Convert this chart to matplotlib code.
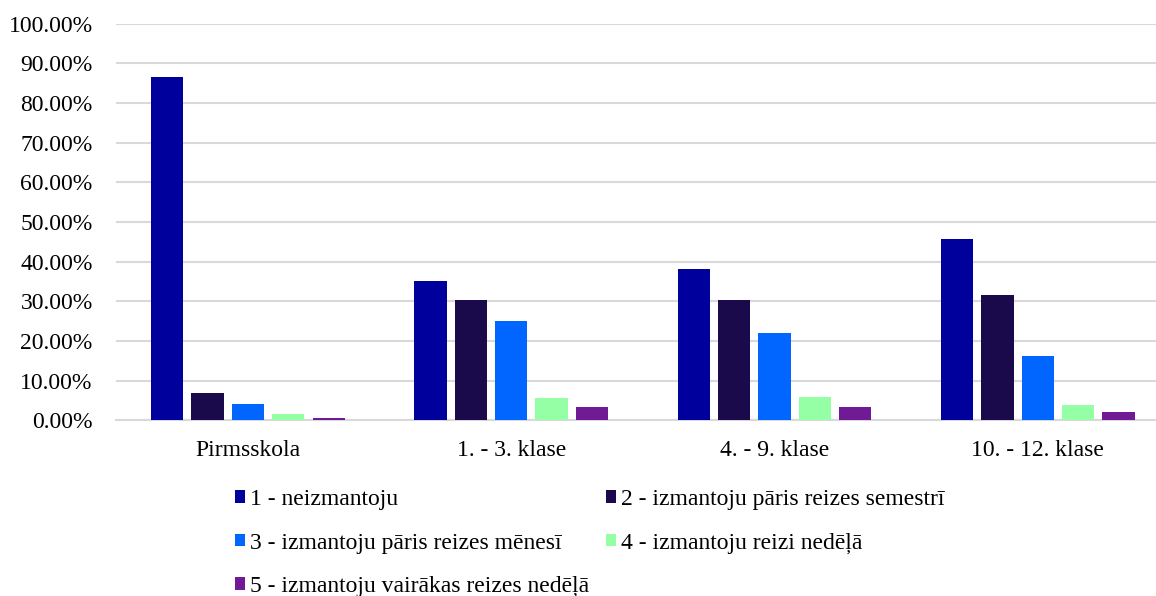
import numpy as np
import matplotlib.pyplot as plt
from matplotlib.ticker import FuncFormatter

categories = ['Pirmsskola', '1. - 3. klase', '4. - 9. klase', '10. - 12. klase']
series_names = ['1 - neizmantoju',
                '2 - izmantoju pāris reizes semestrī',
                '3 - izmantoju pāris reizes mēnesī',
                '4 - izmantoju reizi nedēļā',
                '5 - izmantoju vairākas reizes nedēļā']
s1 = [86.7, 35.2, 38.2, 45.8]
s2 = [6.8, 30.4, 30.4, 31.7]
s3 = [4.1, 25.1, 22.1, 16.3]
s4 = [1.6, 5.6, 5.9, 3.8]
s5 = [0.6, 3.4, 3.4, 2.1]
colors = ['#00009C', '#1B0A4B', '#0066FF', '#94FFA4', '#701A96']

plt.rcParams['font.family'] = ['Liberation Serif', 'DejaVu Serif']

fig = plt.figure(figsize=(11.56, 5.96), dpi=100)
# plot area runs a little past the right edge, like the original (cropped) chart
ax = fig.add_axes([0.1006, 0.295, 0.911, 0.665])

x = np.arange(len(categories))
pitch = 0.1535
width = 0.1227
handles = []
for i, vals in enumerate([s1, s2, s3, s4, s5]):
    h = ax.bar(x + (i - 2) * pitch, vals, width, color=colors[i], label=series_names[i], zorder=3)
    handles.append(h)

ax.set_ylim(0, 100)
ax.set_xlim(-0.5, 3.5)
ax.set_yticks(np.arange(0, 101, 10))
ax.yaxis.set_major_formatter(FuncFormatter(lambda v, p: f'{v:.2f}%'))
ax.set_xticks(x)
ax.set_xticklabels(categories)
ax.tick_params(axis='both', length=0, labelsize=17, colors='black')
ax.tick_params(axis='x', pad=14)
ax.tick_params(axis='y', pad=17)
ax.grid(axis='y', color='#D9D9D9', linewidth=1.5, zorder=0)
for s in ['top', 'right', 'left']:
    ax.spines[s].set_visible(False)
ax.spines['bottom'].set_color('#D9D9D9')
ax.spines['bottom'].set_linewidth(1.5)

# legend filled row by row: 1 2 / 3 4 / 5
order = [0, 2, 4, 1, 3]
fig.legend([handles[i] for i in order], [series_names[i] for i in order],
           ncol=2, loc='upper left', bbox_to_anchor=(0.1846, 0.215),
           frameon=False, fontsize=17, handlelength=0.45, handleheight=0.45,
           handletextpad=0.2, columnspacing=0.7, labelspacing=0.95)

plt.savefig('out.png', dpi=100)
